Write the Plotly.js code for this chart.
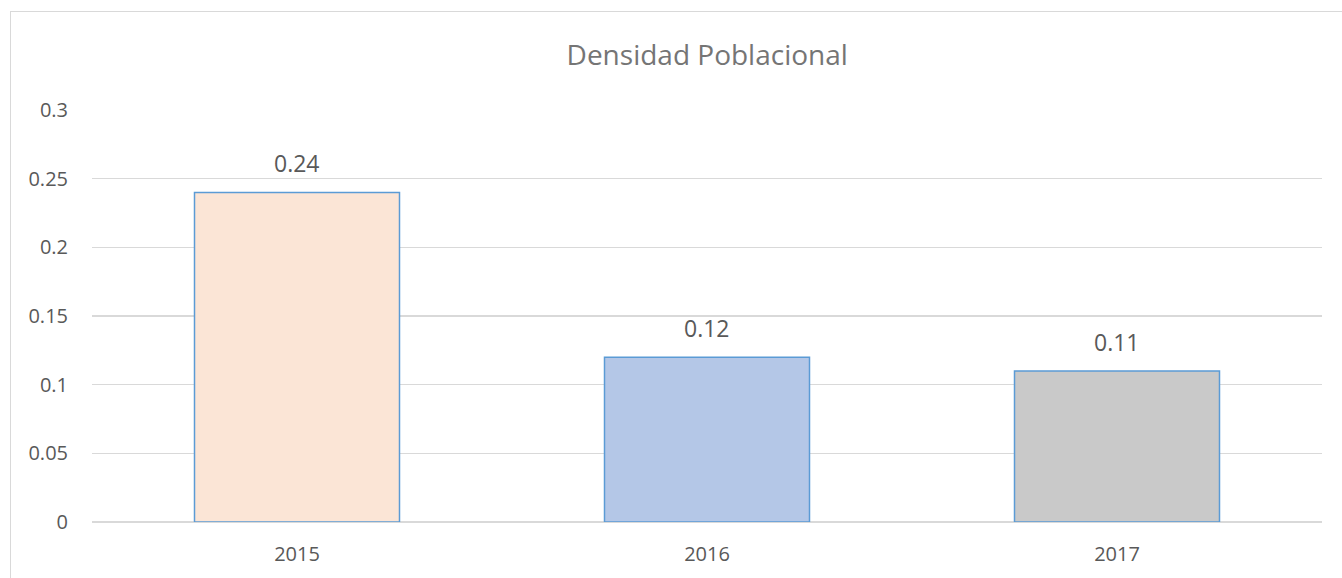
<!DOCTYPE html>
<html>
<head>
<meta charset="utf-8">
<script src="https://cdn.plot.ly/plotly-3.0.1.min.js"></script>
<style>
  html, body { margin: 0; padding: 0; background: #fff; }
  #chart { width: 1342px; height: 578px; }
  #frame { position: absolute; left: 10px; top: 11px; width: 1400px; height: 700px;
           border: 1px solid #d9d9d9; pointer-events: none; }
</style>
</head>
<body>
<div id="chart"></div>
<div id="frame"></div>
<script>
const categories = ['2015', '2016', '2017'];
const values = [0.24, 0.12, 0.11];
const valueLabels = ['0.24', '0.12', '0.11'];
const barColors = ['#FBE5D6', '#B4C7E7', '#C9C9C9'];
const yTickVals = [0, 0.05, 0.1, 0.15, 0.2, 0.25, 0.3];
const yTickText = ['0', '0.05', '0.1', '0.15', '0.2', '0.25', '0.3'];

const font = '"Open Sans", "Noto Sans", sans-serif';

// category axis: annotation x given as the category's index
const labelAnnotations = categories.map((c, i) => ({
  x: i, y: values[i], xref: 'x', yref: 'y',
  text: valueLabels[i], showarrow: false,
  yanchor: 'bottom', yshift: 11,
  font: { family: font, size: 23, color: '#595959' }
}));

Plotly.newPlot('chart', [{
  type: 'bar',
  x: categories,
  y: values,
  marker: { color: barColors, line: { color: '#5B9BD5', width: 1.5 } },
  hoverinfo: 'none'
}], {
  width: 1342, height: 578,
  margin: { l: 92, r: 20, t: 110, b: 56 },
  paper_bgcolor: '#fff', plot_bgcolor: '#fff',
  bargap: 0.5,
  showlegend: false,
  annotations: labelAnnotations,
  title: { text: 'Densidad Poblacional', x: 0.527, xanchor: 'center', y: 0.905, yanchor: 'middle',
           font: { family: font, size: 28, color: '#757575' } },
  xaxis: {
    type: 'category', range: [-0.5, categories.length - 0.5],
    showgrid: false, zeroline: false, showline: false,
    ticks: '', ticklabelstandoff: 18,
    tickfont: { family: font, size: 20, color: '#595959' }
  },
  yaxis: {
    range: [0, 0.3], tickvals: yTickVals, ticktext: yTickText,
    showgrid: true, gridcolor: '#d9d9d9', gridwidth: 1.3,
    zeroline: true, zerolinecolor: '#d9d9d9', zerolinewidth: 1.3,
    showline: false, ticks: '', ticklabelstandoff: 23,
    tickfont: { family: font, size: 20, color: '#595959' }
  }
}, { displayModeBar: false, staticPlot: true });
</script>
</body>
</html>
